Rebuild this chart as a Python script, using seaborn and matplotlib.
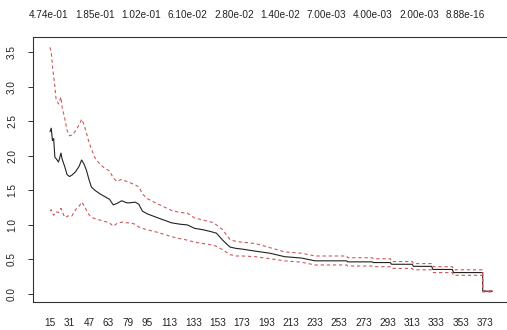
import numpy as np
import pandas as pd
import matplotlib
matplotlib.use("Agg")
import matplotlib.pyplot as plt
import seaborn as sns

# Values
x_vals = [15, 16, 17, 18, 19, 20, 22, 24, 25, 27, 29, 31, 33, 36, 39, 41, 43, 45, 47, 49,
          52, 56, 60, 64, 67, 70, 74, 78, 81, 85, 88, 91, 95, 104, 115, 122, 128, 134, 141,
          148, 152, 157, 163, 168, 173, 184, 196, 208, 222, 233, 259, 260, 280, 281, 295,
          296, 313, 314, 329, 330, 346, 347, 371, 371, 379]
mean_vals = [2.35, 2.40, 2.22, 2.25, 1.98, 1.96, 1.91, 2.04, 1.95, 1.85, 1.73, 1.70, 1.72,
             1.77, 1.85, 1.94, 1.88, 1.79, 1.66, 1.55, 1.50, 1.45, 1.41, 1.37, 1.29, 1.31,
             1.35, 1.32, 1.32, 1.33, 1.30, 1.20, 1.16, 1.10, 1.03, 1.01, 1.00, 0.95, 0.93,
             0.90, 0.88, 0.78, 0.68, 0.66, 0.65, 0.62, 0.59, 0.54, 0.52, 0.48, 0.48, 0.465,
             0.465, 0.455, 0.455, 0.43, 0.43, 0.40, 0.40, 0.355, 0.355, 0.31, 0.31, 0.04, 0.04]
upper_vals = [3.57, 3.50, 3.30, 3.15, 3.00, 2.82, 2.75, 2.85, 2.70, 2.55, 2.37, 2.29, 2.30,
              2.36, 2.45, 2.53, 2.45, 2.33, 2.20, 2.10, 1.97, 1.88, 1.82, 1.78, 1.68, 1.63,
              1.66, 1.63, 1.61, 1.58, 1.55, 1.45, 1.38, 1.30, 1.21, 1.18, 1.17, 1.10, 1.07,
              1.04, 1.00, 0.93, 0.79, 0.76, 0.75, 0.73, 0.67, 0.61, 0.59, 0.55, 0.55, 0.525,
              0.525, 0.51, 0.51, 0.47, 0.47, 0.44, 0.44, 0.395, 0.395, 0.35, 0.35, 0.05, 0.05]
lower_vals = [1.20, 1.22, 1.17, 1.14, 1.16, 1.19, 1.18, 1.24, 1.20, 1.11, 1.12, 1.14, 1.13,
              1.22, 1.27, 1.33, 1.28, 1.21, 1.15, 1.11, 1.09, 1.07, 1.05, 1.03, 0.98, 1.02,
              1.04, 1.03, 1.03, 1.01, 0.97, 0.95, 0.93, 0.89, 0.83, 0.80, 0.78, 0.75, 0.73,
              0.71, 0.69, 0.64, 0.57, 0.55, 0.55, 0.54, 0.51, 0.48, 0.46, 0.42, 0.42, 0.405,
              0.405, 0.395, 0.395, 0.37, 0.37, 0.35, 0.35, 0.31, 0.31, 0.27, 0.27, 0.03, 0.03]

bottom_ticks = [15, 31, 47, 63, 79, 95, 113, 133, 153, 173,
                193, 213, 233, 253, 273, 293, 313, 333, 353, 373]
top_labels = ["4.74e-01", "1.85e-01", "1.02e-01", "6.10e-02", "2.80e-02",
              "1.40e-02", "7.00e-03", "4.00e-03", "2.00e-03", "8.88e-16"]
y_ticks = [0.0, 0.5, 1.0, 1.5, 2.0, 2.5, 3.0, 3.5]

sns.set_theme(style="white")
plt.rcParams["font.family"] = ["Liberation Sans", "DejaVu Sans"]
plt.rcParams["font.size"] = 7.2

df = pd.DataFrame({"x": x_vals, "mean": mean_vals,
                   "upper": upper_vals, "lower": lower_vals})

fig = plt.figure(figsize=(5.07, 3.30), dpi=100)
ax = fig.add_axes([33 / 507, 28 / 330, 474 / 507, 265 / 330])

# mean curve and its bounds
sns.lineplot(data=df, x="x", y="mean", color="#222222", lw=0.8,
             estimator=None, sort=False, ax=ax)
for col in ["upper", "lower"]:
    sns.lineplot(data=df, x="x", y=col, color="#cc5a5a", lw=0.8,
                 linestyle=(0, (3, 2.5)), estimator=None, sort=False, ax=ax)

ax.set_xlim(1, 391)
ax.set_ylim(-0.116, 3.72)
ax.set_xlabel("")
ax.set_ylabel("")

ax.set_xticks(bottom_ticks)
ax.set_xticklabels([str(t) for t in bottom_ticks])
ax.tick_params(axis="x", length=0, pad=11.5, labelsize=7.2, labelcolor="#222222")

ax.set_yticks(y_ticks)
ax.set_yticklabels([f"{t:.1f}" for t in y_ticks], rotation=90, va="center")
ax.tick_params(axis="y", left=True, length=3.5, width=0.7, pad=8,
               labelsize=7.2, labelcolor="#222222", color="#333333")

for side in ["left", "top", "bottom"]:
    ax.spines[side].set_color("#333333")
    ax.spines[side].set_linewidth(0.8)
ax.spines["right"].set_visible(False)

# lambda values along the top
secax = ax.secondary_xaxis("top")
secax.set_xticks(np.linspace(14, 357, 10))
secax.set_xticklabels(top_labels)
secax.tick_params(length=0, pad=12.5, labelsize=7.2, labelcolor="#222222")
secax.spines["top"].set_visible(False)

fig.savefig("out.png", dpi=100)
